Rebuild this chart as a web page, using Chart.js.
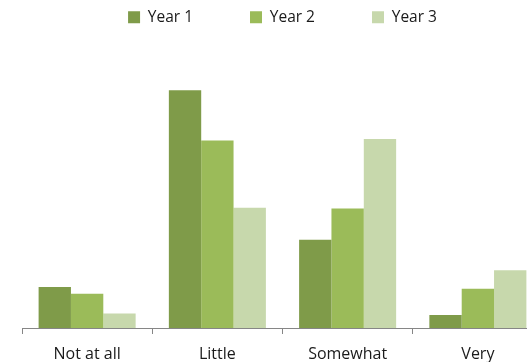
<!DOCTYPE html>
<html>
<head>
<meta charset="utf-8">
<script src="https://cdn.jsdelivr.net/npm/chart.js@4"></script>
<style>
  html, body { margin: 0; padding: 0; background: #ffffff; overflow: hidden; }
  #wrap { width: 543px; height: 362px; }
</style>
</head>
<body>
<div id="wrap"><canvas id="chart" width="543" height="362"></canvas></div>
<script>
// Share of responses per answer, by year (percent)
const categories = ['Not at all', 'Little', 'Somewhat', 'Very'];
const seriesNames = ['Year 1', 'Year 2', 'Year 3'];
const year1 = [10.8, 62.5, 23.2, 3.4];
const year2 = [9.0, 49.3, 31.4, 10.3];
const year3 = [3.8, 31.6, 49.7, 15.2];
const seriesColors = ['#7f9b49', '#9bbb59', '#c7d8ac'];

const values = [year1, year2, year3];

new Chart(document.getElementById('chart'), {
  type: 'bar',
  data: {
    labels: categories,
    datasets: seriesNames.map((name, i) => ({
      label: name,
      data: values[i],
      backgroundColor: seriesColors[i],
      borderWidth: 0,
      barPercentage: 1.0,
      categoryPercentage: 0.745
    }))
  },
  options: {
    responsive: false,
    animation: false,
    devicePixelRatio: 1,
    layout: { padding: { top: -47.5, left: 22, right: 0, bottom: 0 } },
    plugins: {
      tooltip: { enabled: false },
      legend: {
        position: 'top',
        align: 'center',
        labels: {
          boxWidth: 12,
          boxHeight: 12,
          padding: 57,
          color: '#1a1a1a',
          font: { family: 'Open Sans', size: 15.5 }
        }
      }
    },
    scales: {
      x: {
        offset: true,
        grid: {
          display: true,
          offset: true,
          drawOnChartArea: false,
          drawTicks: true,
          tickLength: 6,
          tickColor: '#868686',
          color: '#868686'
        },
        border: { display: true, color: '#868686', width: 1 },
        ticks: {
          color: '#1a1a1a',
          padding: 11,
          maxRotation: 0,
          font: { family: 'Open Sans', size: 16 }
        },
        afterFit: (scale) => { scale.height = 34; }
      },
      y: {
        display: false,
        min: 0,
        max: 77
      }
    }
  }
});
</script>
</body>
</html>
